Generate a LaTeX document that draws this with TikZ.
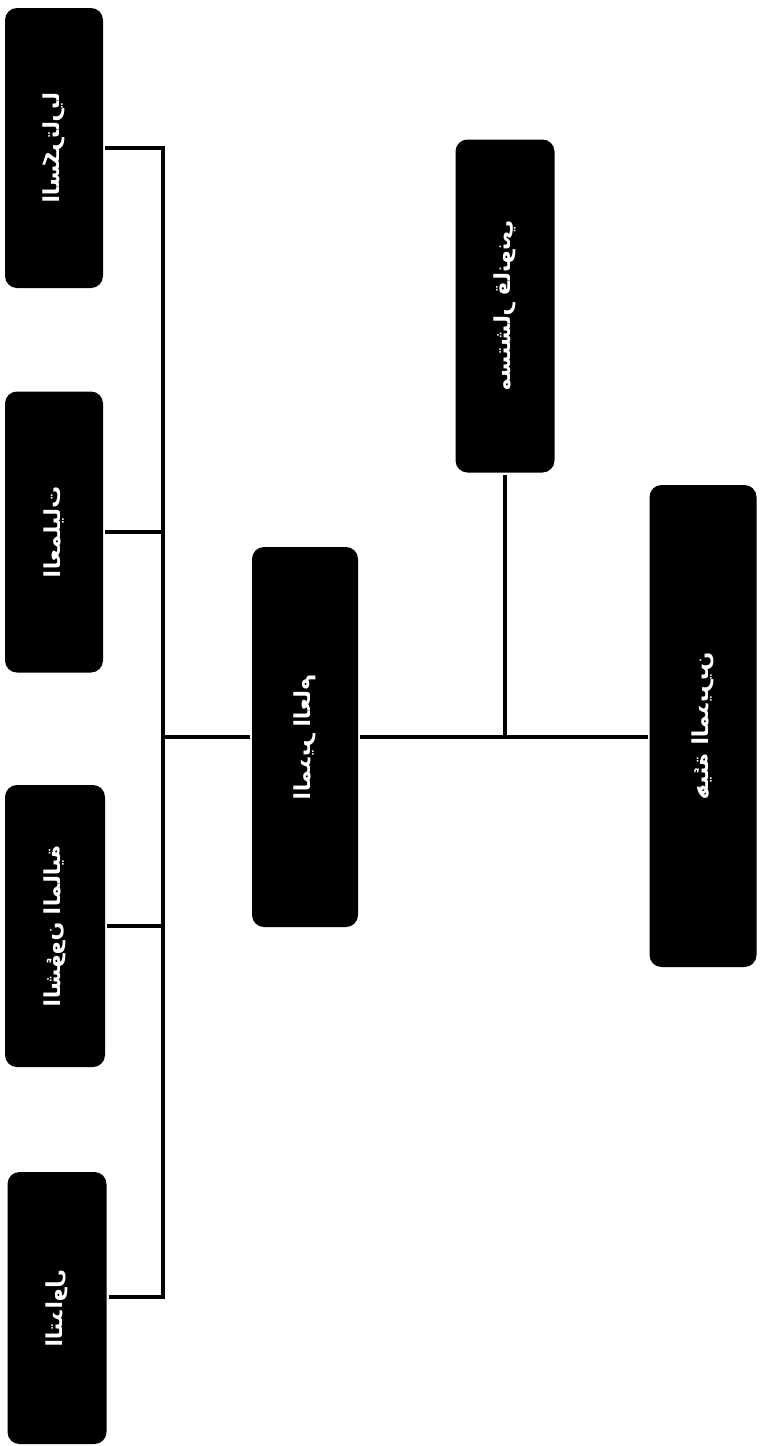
\documentclass[tikz,border=0pt]{standalone}
\usepackage{fontspec}
\newfontfamily\arabicfont[Script=Arabic]{DejaVu Sans}
\TeXXeTstate=1
\newcommand{\vlabel}[1]{\rotatebox{-90}{\scalebox{1}[-1]{\beginR #1\endR}}}
\tikzset{unit/.style={fill=black,rounded corners=12pt,text=white,inner sep=0pt,font=\arabicfont\bfseries\fontsize{22}{26}\selectfont}}
\begin{document}
\begin{tikzpicture}[x=1pt,y=-1pt,line width=4pt]
		\useasboundingbox (0,0) rectangle (764,1446);
		\node[unit,minimum width=98pt,minimum height=280pt] (sec) at (54,148) {\vlabel{السكرتاريا}};
		\node[unit,minimum width=98pt,minimum height=281pt] (ops) at (54,532) {\vlabel{العمليات}};
		\node[unit,minimum width=100pt,minimum height=282pt] (fin) at (55,926) {\vlabel{الشؤون المالية}};
		\node[unit,minimum width=99pt,minimum height=272pt] (trd) at (57,1308) {\vlabel{التداول}};
		\node[unit,minimum width=106pt,minimum height=380pt] (md) at (305,737) {\vlabel{المدير العام}};
		\node[unit,minimum width=99pt,minimum height=333pt] (law) at (505,306) {\vlabel{مستشار قانوني}};
		\node[unit,minimum width=107pt,minimum height=482pt] (brd) at (703,726) {\vlabel{هيئة المديرين}};
		\coordinate (bus) at (163,1297);
		\draw (sec.east) -| (bus) -- (bus -| trd.east);
		\foreach \u in {ops,fin} \draw (\u.east) -- (\u.east -| bus);
		\draw (md.west) -- (md.west -| bus);
		\draw (md.east) -- (md.east -| brd.west);
		\draw (law.south) -- (law.south |- md.east);
\end{tikzpicture}
\end{document}
